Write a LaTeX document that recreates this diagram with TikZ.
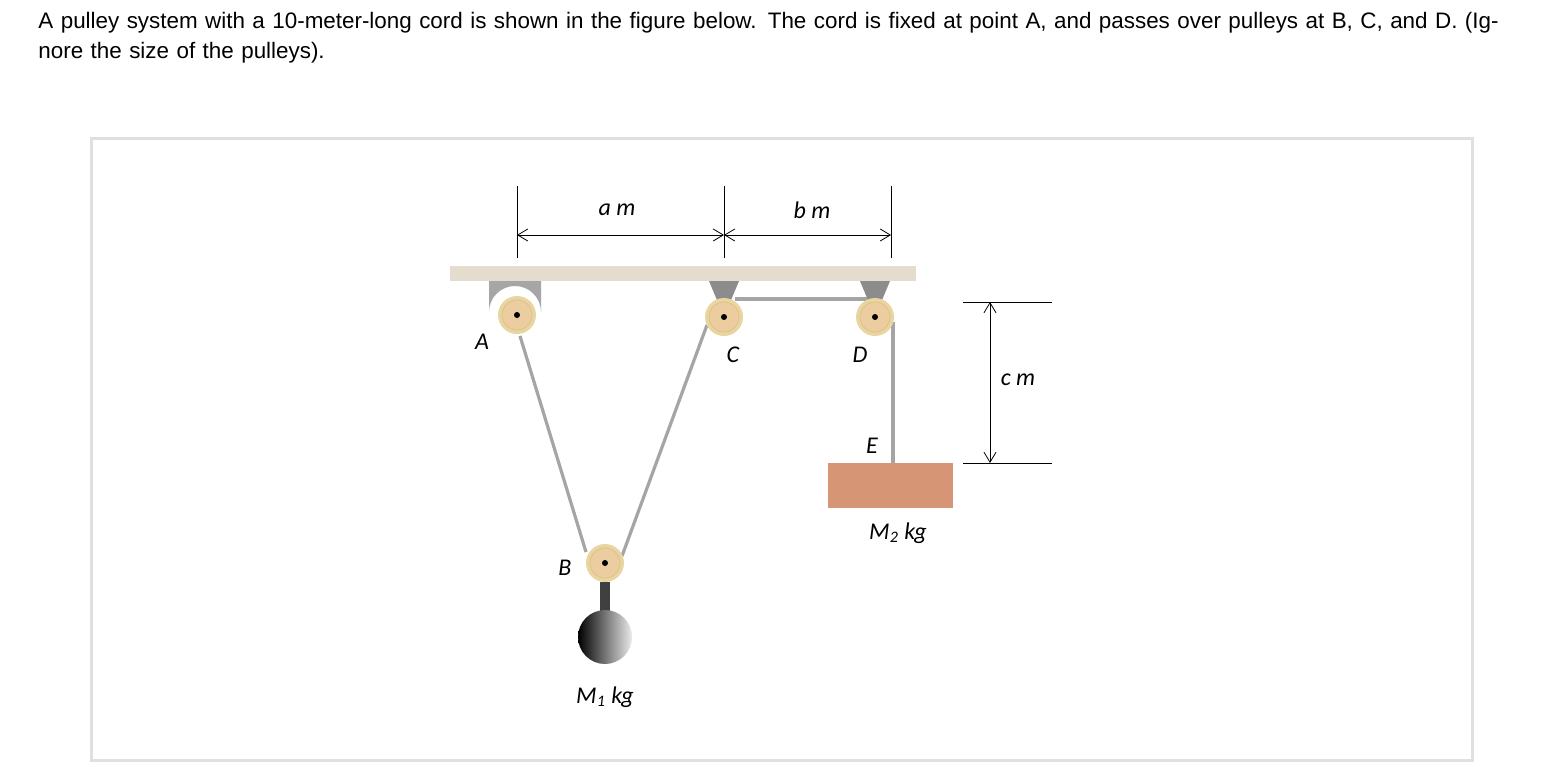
\documentclass[tikz,border=0pt]{standalone}
\usepackage{fontspec}
\setmainfont{Liberation Sans}
\newfontfamily\carfont{Carlito}
\usetikzlibrary{arrows.meta}
\definecolor{wood}{RGB}{236,205,160}
\definecolor{rim}{RGB}{232,214,160}
\definecolor{bar}{RGB}{228,220,204}
\definecolor{blk}{RGB}{214,150,118}
\definecolor{cordc}{RGB}{165,165,165}
\tikzset{x=0.5pt,y=-0.5pt,
 lbl/.style={font=\carfont\itshape\fontsize{12}{14}\selectfont,inner sep=0},
 dim/.style={draw=black,line width=0.4pt},
 arr/.style={dim,{Straight Barb[length=5pt,width=6pt]}-{Straight Barb[length=5pt,width=6pt]}},
 cord/.style={draw=cordc,line width=1.6pt}}
\newcommand{\pul}[2]{%
 \fill[rim] (#1) circle (19);
 \draw[wood!80!brown,fill=wood] (#1) circle (15);
 \fill[black] (#1) circle (3);
 \node[inner sep=0] (#2) at (#1) {};}
\begin{document}
\begin{tikzpicture}
\useasboundingbox (0,0) rectangle (1563,766);
\fill[white] (0,0) rectangle (1563,766);
\node[anchor=north west,align=left,inner sep=0,text width=740pt,font=\fontsize{11.2}{15}\selectfont] (title) at (38,12)
 {A pulley system with a 10-meter-long cord is shown in the figure below. The cord is fixed at point A, and passes over pulleys at B, C, and D. (Ignore the size of the pulleys).};
\draw[black!12,line width=1.5pt] (91,138) rectangle (1472,760);
% cords
\draw[cord] (520,336) -- (586,552);
\draw[cord] (622,556) -- (707,325);
\draw[cord] (735,299) -- (872,299);
\draw[cord] (893,322) -- (893,463);
% bar
\fill[bar] (450,266) rectangle (916,281);
% bracket A
\fill[black!35] (489,281) -- (489,312) arc[start angle=180,end angle=360,radius=26] -- (541,281) -- cycle;
% triangles
\fill[black!45] (709,281) -- (739,281) -- (724,317) -- cycle;
\fill[black!45] (860,281) -- (890,281) -- (875,317) -- cycle;
\pul{517,315}{A}
\pul{724,317}{C}
\pul{875,317}{D}
\pul{605,563}{B}
% hanger and ball
\fill[black!75] (600,582) rectangle (610,612);
\shade[left color=black,right color=black!8] (605,637) circle (27);
\node (ball) at (605,637) {};
% block
\fill[blk] (828,463) rectangle (953,508);
\node (blockn) at (890,486) {};
% labels
\node[lbl] (lA) at (482,342) {A};
\node[lbl] (lB) at (565,568) {B};
\node[lbl] (lC) at (733,355) {C};
\node[lbl] (lD) at (860,355) {D};
\node[lbl] (lE) at (872,446) {E};
\node[lbl] (lM2) at (898,533) {M\textsubscript{2} kg};
\node[lbl] (lM1) at (605,697) {M\textsubscript{1} kg};
% dimensions
\draw[dim] (517,186) -- (517,258);
\draw[dim] (724,186) -- (724,258);
\draw[dim] (891,186) -- (891,258);
\draw[arr] (517,235) -- (724,235);
\draw[arr] (724,235) -- (891,235);
\node[lbl] (la) at (617,210) {a m};
\node[lbl] (lb) at (812,210) {b m};
\draw[dim] (963,302) -- (1052,302);
\draw[dim] (963,463) -- (1052,463);
\draw[arr] (990,302) -- (990,463);
\node[lbl] (lc) at (1018,380) {c m};
\end{tikzpicture}
\end{document}
